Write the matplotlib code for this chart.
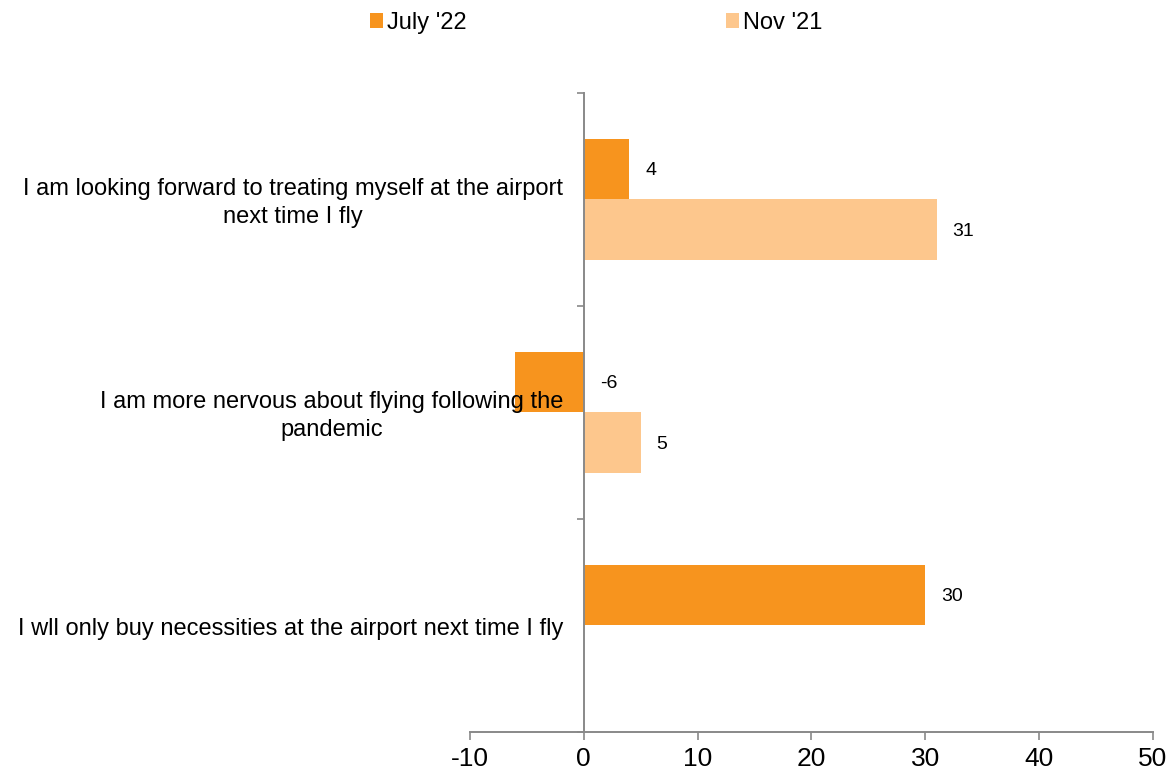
import numpy as np
import matplotlib
matplotlib.use("Agg")
import matplotlib.pyplot as plt
from matplotlib.ticker import FixedLocator

plt.rcParams['font.family'] = ['Liberation Sans', 'DejaVu Sans']

categories = [
    "I am looking forward to treating myself at the airport\nnext time I fly",
    "I am more nervous about flying following the\npandemic",
    "I wll only buy necessities at the airport next time I fly",
]
series_names = ["July '22", "Nov '21"]
july22 = [4, -6, 30]
nov21 = [31, 5, np.nan]
xticks = [-10, 0, 10, 20, 30, 40, 50]

col_july = '#F7941E'
col_nov = '#FDC78D'
axis_col = '#898989'

fig = plt.figure(figsize=(11.69, 7.76), dpi=100)
ax = fig.add_axes([0.402, 0.0567, 0.9863 - 0.402, 0.8802 - 0.0567])

y = np.arange(len(categories))
h = 0.286
ax.barh(y - h / 2, july22, height=h, color=col_july, label=series_names[0], zorder=1)
ax.barh(y + h / 2, nov21, height=h, color=col_nov, label=series_names[1], zorder=1)

for vals, off in ((july22, -h / 2), (nov21, h / 2)):
    for yi, v in zip(y, vals):
        if np.isnan(v):
            continue
        ax.annotate(f"{v:g}", xy=(max(v, 0), yi + off), xytext=(11.5, -1),
                    textcoords='offset points', ha='left', va='center', fontsize=14)

ax.set_xlim(-10, 50)
ax.set_ylim(2.5, -0.5)
ax.set_xticks(xticks)
ax.set_xticklabels([f"{t}" for t in xticks])
ax.tick_params(axis='x', direction='out', length=6, width=1.2, color=axis_col,
               labelsize=19, pad=5)

# category labels (drawn as text next to the value axis at x=0)
ax.set_yticks([])
ax.yaxis.set_minor_locator(FixedLocator([-0.5, 0.5, 1.5, 2.5]))
ax.tick_params(axis='y', which='minor', length=5, width=1.2, color=axis_col, direction='out')
for yi, cat in zip(y, categories):
    ax.annotate(cat, xy=(0, yi), xytext=(-15, -2.5), textcoords='offset points',
                ha='right', va='center', multialignment='center', linespacing=1.4,
                fontsize=17, zorder=3, annotation_clip=False)

ax.spines['left'].set_position(('data', 0))
for s in ('left', 'bottom'):
    ax.spines[s].set_color(axis_col)
    ax.spines[s].set_linewidth(1.4)
ax.spines['top'].set_visible(False)
ax.spines['right'].set_visible(False)

leg = fig.legend(loc='upper center', bbox_to_anchor=(0.51, 1.012), ncol=2, frameon=False,
                 fontsize=17, handlelength=0.55, handleheight=0.55, handletextpad=0.15,
                 columnspacing=11.0)

fig.savefig('out.png', dpi=100)
